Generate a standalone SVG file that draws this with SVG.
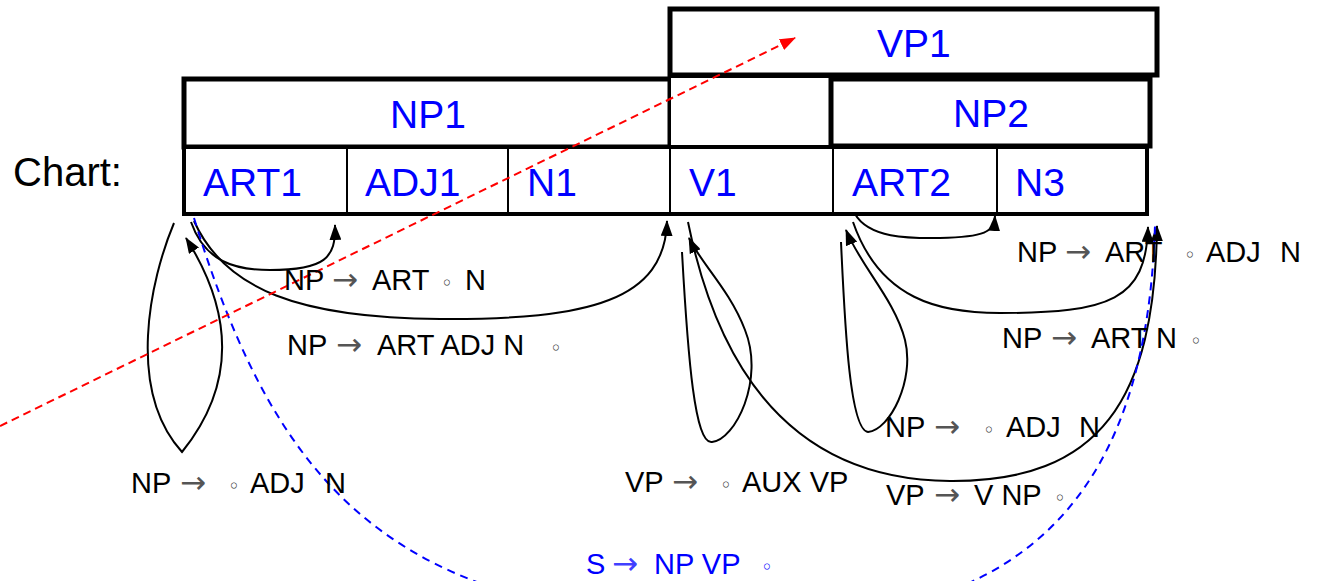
<svg xmlns="http://www.w3.org/2000/svg" width="1317" height="581" viewBox="0 0 1317 581">
<style>
.box{fill:#fff;stroke:#000;stroke-width:5}
.cell{fill:#fff;stroke:#000;stroke-width:2}
.frame{fill:none;stroke:#000;stroke-width:4}
.bl{font-family:"Liberation Sans",Arial,sans-serif;font-size:39px;fill:#0000ff}
.ch{font-family:"Liberation Sans",Arial,sans-serif;font-size:40px;fill:#000}
.lb{font-family:"Liberation Sans",Arial,sans-serif;font-size:29px;fill:#000}
.ar{font-family:"DejaVu Sans",sans-serif;font-size:31px;fill:#555}
.ci{font-family:"DejaVu Sans",sans-serif;font-size:20px;fill:#333}
.lbb{font-family:"Liberation Sans",Arial,sans-serif;font-size:29px;fill:#0000ff}
.arb{font-family:"DejaVu Sans",sans-serif;font-size:31px;fill:#4040ff}
.cib{font-family:"DejaVu Sans",sans-serif;font-size:20px;fill:#0000ff}
.edge{fill:none;stroke:#000;stroke-width:2}
.red{fill:none;stroke:#ff0000;stroke-width:2;stroke-dasharray:8 5}
.blue{fill:none;stroke:#0000ff;stroke-width:2;stroke-dasharray:8 6}
</style>
<defs>
<marker id="ah" viewBox="0 0 16 12" refX="15" refY="6" markerWidth="16" markerHeight="12" markerUnits="userSpaceOnUse" orient="auto">
<path d="M0,0 L16,6 L0,12 z" fill="#000"/>
</marker>
<marker id="ahr" viewBox="0 0 16 12" refX="15" refY="6" markerWidth="16" markerHeight="12" markerUnits="userSpaceOnUse" orient="auto">
<path d="M0,0 L16,6 L0,12 z" fill="#ff0000"/>
</marker>
</defs>
<rect width="1317" height="581" fill="#fff"/>

<g id="chart-label"><text class="ch" x="13" y="186">Chart:</text></g>

<g id="VP1"><rect class="box" x="670" y="9" width="487" height="66"/><text class="bl" x="877" y="57">VP1</text></g>
<g id="NP1"><rect class="box" x="184" y="79" width="486" height="68"/><text class="bl" x="390" y="128">NP1</text></g>
<g id="blank"><rect class="cell" x="670" y="77" width="161" height="70"/></g>
<g id="NP2"><rect class="box" x="831" y="79" width="319" height="67"/><text class="bl" x="953" y="127">NP2</text></g>

<g id="ART1"><rect class="cell" x="184" y="147" width="163" height="67"/><text class="bl" x="203" y="196">ART1</text></g>
<g id="ADJ1"><rect class="cell" x="347" y="147" width="161" height="67"/><text class="bl" x="365" y="196">ADJ1</text></g>
<g id="N1"><rect class="cell" x="508" y="147" width="162" height="67"/><text class="bl" x="527" y="196">N1</text></g>
<g id="V1"><rect class="cell" x="670" y="147" width="163" height="67"/><text class="bl" x="689" y="196">V1</text></g>
<g id="ART2"><rect class="cell" x="833" y="147" width="164" height="67"/><text class="bl" x="852" y="196">ART2</text></g>
<g id="N3"><rect class="cell" x="997" y="147" width="150" height="67"/><text class="bl" x="1015" y="196">N3</text></g>
<g id="row-frame"><rect class="frame" x="184" y="147" width="963" height="67"/></g>

<g id="connectors">
<path class="edge" d="M174,223 C150,280 126,390 182,452 C232,390 238,320 186,238" marker-end="url(#ah)"/>
<path class="edge" d="M191,222 C205,262 235,270 270,270 C325,270 336,258 335,225" marker-end="url(#ah)"/>
<path class="edge" d="M194,221 C225,290 300,318 440,319 C590,320 665,300 667,221" marker-end="url(#ah)"/>
<path class="edge" d="M682,252 C688,360 695,445 712,442 C735,440 765,380 745,330 C730,290 700,262 689,238" marker-end="url(#ah)"/>
<path class="edge" d="M688,222 C720,380 800,480 950,481 C1100,482 1155,400 1157,226" marker-end="url(#ah)"/>
<path class="edge" d="M853,222 C880,300 940,313 1000,313 C1110,313 1146,300 1148,227" marker-end="url(#ah)"/>
<path class="edge" d="M855,214 C870,240 915,238 940,238 C985,237 994,232 995,216" marker-end="url(#ah)"/>
<path class="edge" d="M841,242 C845,330 850,430 868,432 C890,430 915,380 905,340 C895,300 860,265 846,230" marker-end="url(#ah)"/>
<path class="blue" d="M194,218 C280,500 400,610 720,625 C960,625 1145,560 1155,225"/>
<path class="red" d="M0,426 L795,38" marker-end="url(#ahr)"/>
</g>

<g id="labels">
<text class="lb" y="290"><tspan x="284">NP</tspan><tspan class="ar" x="332">→</tspan><tspan x="372">ART</tspan><tspan class="ci" x="441">◦</tspan><tspan x="465">N</tspan></text>
<text class="lb" y="355"><tspan x="287">NP</tspan><tspan class="ar" x="336">→</tspan><tspan x="377">ART ADJ N</tspan><tspan class="ci" x="550">◦</tspan></text>
<text class="lb" y="493"><tspan x="131">NP</tspan><tspan class="ar" x="180">→</tspan><tspan class="ci" x="228">◦</tspan><tspan x="250">ADJ</tspan><tspan x="325">N</tspan></text>
<text class="lb" y="492"><tspan x="625">VP</tspan><tspan class="ar" x="672">→</tspan><tspan class="ci" x="720">◦</tspan><tspan x="742">AUX VP</tspan></text>
<text class="lb" y="505"><tspan x="886">VP</tspan><tspan class="ar" x="934">→</tspan><tspan x="974">V NP</tspan><tspan class="ci" x="1054">◦</tspan></text>
<text class="lb" y="437"><tspan x="885">NP</tspan><tspan class="ar" x="934">→</tspan><tspan class="ci" x="983">◦</tspan><tspan x="1006">ADJ</tspan><tspan x="1079">N</tspan></text>
<text class="lb" y="348"><tspan x="1002">NP</tspan><tspan class="ar" x="1051">→</tspan><tspan x="1091">ART N</tspan><tspan class="ci" x="1190">◦</tspan></text>
<text class="lb" y="262"><tspan x="1017">NP</tspan><tspan class="ar" x="1065">→</tspan><tspan x="1105">ART</tspan><tspan class="ci" x="1184">◦</tspan><tspan x="1206">ADJ</tspan><tspan x="1280">N</tspan></text>
<text class="lbb" y="574"><tspan x="586">S</tspan><tspan class="arb" x="612">→</tspan><tspan x="654">NP VP</tspan><tspan class="cib" x="761">◦</tspan></text>
</g>
</svg>
